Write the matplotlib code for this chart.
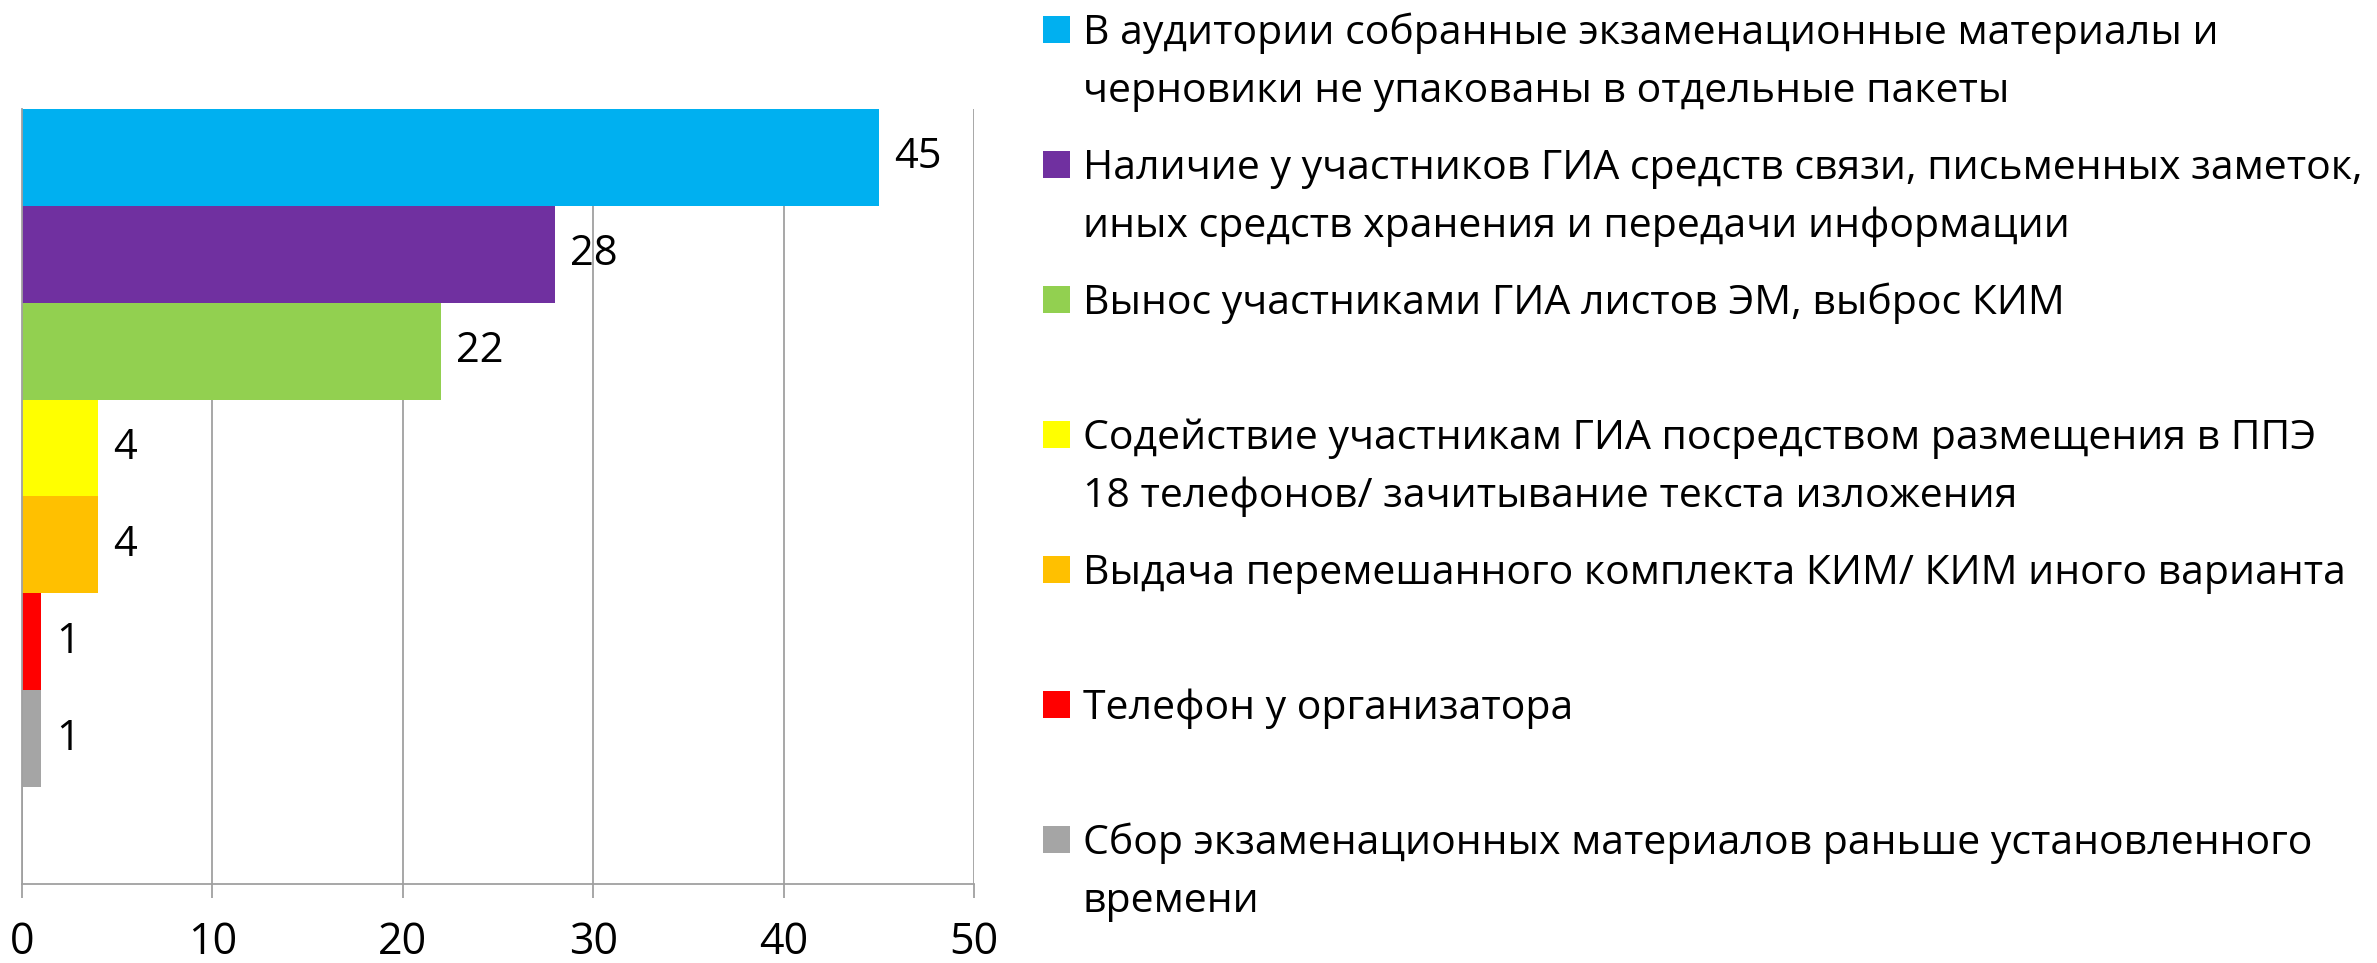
import matplotlib
matplotlib.use("Agg")
import matplotlib.pyplot as plt
from matplotlib.patches import Rectangle

plt.rcParams['font.family'] = ['Open Sans', 'DejaVu Sans']

categories = [
    "В аудитории собранные экзаменационные материалы и\nчерновики не упакованы в отдельные пакеты",
    "Наличие у участников ГИА средств связи, письменных заметок,\nиных средств хранения и передачи информации",
    "Вынос участниками ГИА листов ЭМ, выброс КИМ",
    "Содействие участникам ГИА посредством размещения в ППЭ\n18 телефонов/ зачитывание текста изложения",
    "Выдача перемешанного комплекта КИМ/ КИМ иного варианта",
    "Телефон у организатора",
    "Сбор экзаменационных материалов раньше установленного\nвремени",
]
values = [45, 28, 22, 4, 4, 1, 1]
colors = ["#00B0F0", "#7030A0", "#92D050", "#FFFF00", "#FFC000", "#FF0000", "#A5A5A5"]
xticks = [0, 10, 20, 30, 40, 50]

W, H = 2377, 963
DPI = 100
fig = plt.figure(figsize=(W / DPI, H / DPI), dpi=DPI)

# plot area in pixels
left_px, right_px, top_px, bottom_px = 22, 974, 109, 884
ax = fig.add_axes([left_px / W, 1 - bottom_px / H,
                   (right_px - left_px) / W, (bottom_px - top_px) / H])

grid_col = "#A0A0A0"
fs_leg = 29.5
fs_tick = 31
fs_lab = 30

ypos = list(range(len(values)))
ax.barh(ypos, values, height=1.0, color=colors, edgecolor='none', zorder=3)
ax.set_xlim(0, 50)
ax.set_ylim(len(values) + 0.5, -0.5)

for y, v in zip(ypos, values):
    ax.annotate(str(v), xy=(v, y), xytext=(11, 0), textcoords='offset points',
                va='center', ha='left', fontsize=fs_lab, color='black', zorder=4)

ax.set_xticks(xticks)
ax.set_xticklabels([str(t) for t in xticks], fontsize=fs_tick)
ax.set_yticks([])
ax.xaxis.grid(True, color=grid_col, linewidth=1.3, zorder=0)
for s in ['top', 'right']:
    ax.spines[s].set_visible(False)
for s in ['left', 'bottom']:
    ax.spines[s].set_color(grid_col)
    ax.spines[s].set_linewidth(1.3)
ax.tick_params(axis='x', direction='out', length=10, width=1.3, color=grid_col,
               pad=16, labelcolor='black')
ax.spines['left'].set_zorder(5)

# legend drawn manually on the right
mk_x, mk_size = 1043, 27
txt_x = 1083
first_center = 29.5
step = 135
line_gap = 58
for i, (lab, col) in enumerate(zip(categories, colors)):
    cy = first_center + i * step
    fig.add_artist(Rectangle(((mk_x) / W, 1 - (cy + mk_size / 2) / H),
                             mk_size / W, mk_size / H, transform=fig.transFigure,
                             facecolor=col, edgecolor='none'))
    for j, line in enumerate(lab.split("\n")):
        base = cy + 14.5 + j * line_gap
        fig.text(txt_x / W, 1 - base / H, line, fontsize=fs_leg, va='baseline',
                 ha='left', color='black')

fig.savefig("out.png", dpi=DPI, facecolor='white')
